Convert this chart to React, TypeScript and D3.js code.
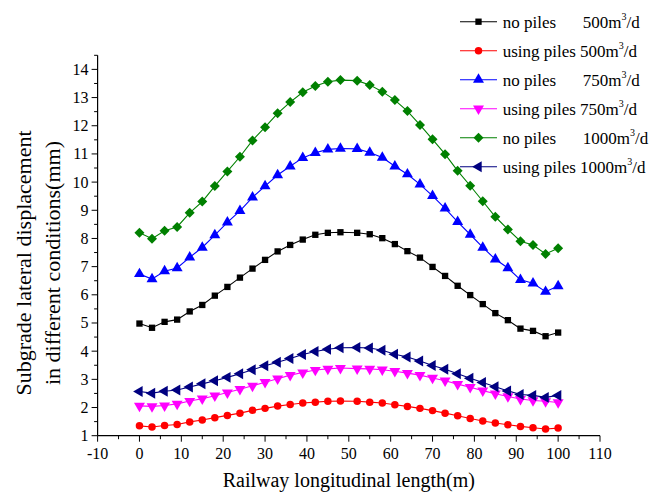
import React from "react";
import * as d3 from "d3";

const xValues = [0, 3, 6, 9, 12, 15, 18, 21, 24, 27, 30, 33, 36, 39, 42, 45, 48, 52, 55, 58, 61, 64, 67, 70, 73, 76, 79, 82, 85, 88, 91, 94, 97, 100];

const noPiles500 = [4.98, 4.83, 5.04, 5.12, 5.41, 5.64, 5.97, 6.28, 6.61, 6.93, 7.24, 7.54, 7.77, 7.96, 8.13, 8.2, 8.22, 8.2, 8.15, 8.01, 7.8, 7.55, 7.32, 6.99, 6.67, 6.32, 5.99, 5.67, 5.35, 5.1, 4.8, 4.72, 4.53, 4.66];
const usingPiles500 = [1.35, 1.31, 1.36, 1.4, 1.49, 1.56, 1.64, 1.72, 1.8, 1.9, 1.97, 2.05, 2.11, 2.16, 2.19, 2.22, 2.23, 2.22, 2.19, 2.16, 2.1, 2.04, 1.97, 1.89, 1.8, 1.71, 1.61, 1.52, 1.45, 1.39, 1.33, 1.28, 1.24, 1.27];
const noPiles750 = [6.74, 6.56, 6.84, 6.95, 7.33, 7.68, 8.12, 8.57, 8.98, 9.46, 9.86, 10.25, 10.56, 10.86, 11.04, 11.16, 11.19, 11.18, 11.05, 10.87, 10.56, 10.28, 9.92, 9.51, 9.07, 8.59, 8.14, 7.68, 7.26, 6.95, 6.53, 6.41, 6.11, 6.31];
const usingPiles750 = [2.06, 2.04, 2.07, 2.13, 2.23, 2.31, 2.42, 2.53, 2.65, 2.77, 2.9, 3.02, 3.15, 3.24, 3.33, 3.37, 3.4, 3.38, 3.37, 3.34, 3.29, 3.22, 3.15, 3.05, 2.95, 2.83, 2.72, 2.6, 2.49, 2.39, 2.3, 2.25, 2.22, 2.18];
const noPiles1000 = [8.2, 7.99, 8.27, 8.41, 8.91, 9.31, 9.86, 10.38, 10.9, 11.48, 11.95, 12.44, 12.84, 13.19, 13.41, 13.56, 13.62, 13.6, 13.45, 13.21, 12.91, 12.52, 12.03, 11.52, 10.99, 10.4, 9.87, 9.32, 8.77, 8.32, 7.9, 7.77, 7.45, 7.65];
const usingPiles1000 = [2.57, 2.51, 2.58, 2.62, 2.73, 2.84, 2.95, 3.07, 3.2, 3.34, 3.48, 3.61, 3.74, 3.88, 3.99, 4.07, 4.12, 4.13, 4.11, 4.03, 3.89, 3.79, 3.65, 3.49, 3.36, 3.2, 3.04, 2.89, 2.74, 2.59, 2.46, 2.43, 2.36, 2.43];

const legendNames = ["no piles", "using piles", "no piles", "using piles", "no piles", "using piles"];
const legendRates = ["500", "500", "750", "750", "1000", "1000"];

const xTicks = [-10, 0, 10, 20, 30, 40, 50, 60, 70, 80, 90, 100, 110];
const xMinorTicks = [-5, 5, 15, 25, 35, 45, 55, 65, 75, 85, 95, 105];
const yTicks = [1, 2, 3, 4, 5, 6, 7, 8, 9, 10, 11, 12, 13, 14];
const yMinorTicks = [1.5, 2.5, 3.5, 4.5, 5.5, 6.5, 7.5, 8.5, 9.5, 10.5, 11.5, 12.5, 13.5, 14.5];

const xTitle = "Railway longitudinal length(m)";
const yTitle1 = "Subgrade lateral displacement";
const yTitle2 = "in different conditions(mm)";

type Series = { values: number[]; color: string; shape: string };
const series: Series[] = [
  { values: noPiles500, color: "#000000", shape: "square" },
  { values: usingPiles500, color: "#ff0000", shape: "circle" },
  { values: noPiles750, color: "#0000ff", shape: "up" },
  { values: usingPiles750, color: "#ff00ff", shape: "down" },
  { values: noPiles1000, color: "#008000", shape: "diamond" },
  { values: usingPiles1000, color: "#000080", shape: "left" },
];

function markerPath(shape: string): { d: string; rot: number } {
  if (shape === "square") return { d: d3.symbol(d3.symbolSquare, 40)()!, rot: 0 };
  if (shape === "circle") return { d: d3.symbol(d3.symbolCircle, 44)()!, rot: 0 };
  if (shape === "up") return { d: d3.symbol(d3.symbolTriangle, 52)()!, rot: 0 };
  if (shape === "down") return { d: d3.symbol(d3.symbolTriangle, 52)()!, rot: 180 };
  if (shape === "left") return { d: d3.symbol(d3.symbolTriangle, 52)()!, rot: -90 };
  return { d: d3.symbol(d3.symbolSquare, 50)()!, rot: 45 };
}

const FONT = "'Liberation Serif', 'Times New Roman', serif";

export default function App() {
  const x = d3.scaleLinear().domain([-10, 110]).range([97.6, 600]);
  const y = d3.scaleLinear().domain([1, 14.5]).range([435.7, 55.3]);
  const line = d3
    .line<number>()
    .x((_, i) => x(xValues[i]))
    .y((v) => y(v));

  const x0 = x(-10);
  const y0 = y(1);

  return (
    <svg
      width={665}
      height={495}
      style={{ position: "absolute", left: 0, top: 0, background: "#fff" }}
      fontFamily={FONT}
    >
      <rect x={0} y={0} width={665} height={495} fill="#fff" />
      {/* series */}
      {series.map((s, si) => {
        const m = markerPath(s.shape);
        return (
          <g key={si}>
            <path d={line(s.values)!} fill="none" stroke={s.color} strokeWidth={1.1} />
            {s.values.map((v, i) => (
              <path
                key={i}
                d={m.d}
                fill={s.color}
                transform={`translate(${x(xValues[i])},${y(v)}) rotate(${m.rot})`}
              />
            ))}
          </g>
        );
      })}
      {/* axes */}
      <line x1={x0} x2={x(110)} y1={y0} y2={y0} stroke="#000" strokeWidth={1.2} />
      <line x1={x0} x2={x0} y1={y0} y2={y(14.5)} stroke="#000" strokeWidth={1.2} />
      {xTicks.map((t) => (
        <g key={"xt" + t}>
          <line x1={x(t)} x2={x(t)} y1={y0} y2={y0 + 6} stroke="#000" strokeWidth={1} />
          <text x={x(t)} y={y0 + 23} textAnchor="middle" fontSize={16}>
            {t}
          </text>
        </g>
      ))}
      {xMinorTicks.map((t) => (
        <line key={"xm" + t} x1={x(t)} x2={x(t)} y1={y0} y2={y0 + 3.5} stroke="#000" strokeWidth={1} />
      ))}
      {yTicks.map((t) => (
        <g key={"yt" + t}>
          <line x1={x0 - 6} x2={x0} y1={y(t)} y2={y(t)} stroke="#000" strokeWidth={1} />
          <text x={x0 - 9} y={y(t) + 5.5} textAnchor="end" fontSize={16}>
            {t}
          </text>
        </g>
      ))}
      {yMinorTicks.map((t) => (
        <line key={"ym" + t} x1={x0 - 3.5} x2={x0} y1={y(t)} y2={y(t)} stroke="#000" strokeWidth={1} />
      ))}
      {/* titles */}
      <text x={(x0 + x(110)) / 2} y={487} textAnchor="middle" fontSize={20}>
        {xTitle}
      </text>
      <text transform="translate(31,263) rotate(-90)" textAnchor="middle" fontSize={22}>
        {yTitle1}
      </text>
      <text transform="translate(60,263) rotate(-90)" textAnchor="middle" fontSize={22}>
        {yTitle2}
      </text>
      {/* legend */}
      {series.map((s, i) => {
        const ly = 21.7 + i * 29;
        const m = markerPath(s.shape);
        return (
          <g key={"lg" + i}>
            <line x1={460} x2={497} y1={ly} y2={ly} stroke={s.color} strokeWidth={1.1} />
            <path d={m.d} fill={s.color} transform={`translate(478.5,${ly}) rotate(${m.rot})`} />
            <text x={502.7} y={ly + 6} fontSize={17}>
              {legendNames[i]}
            </text>
            <text x={legendNames[i] === "no piles" ? 582.7 : 580} y={ly + 6} fontSize={17}>
              {legendRates[i]}m
              <tspan dy={-8} fontSize={10}>3</tspan>
              <tspan dy={8}>/d</tspan>
            </text>
          </g>
        );
      })}
    </svg>
  );
}
